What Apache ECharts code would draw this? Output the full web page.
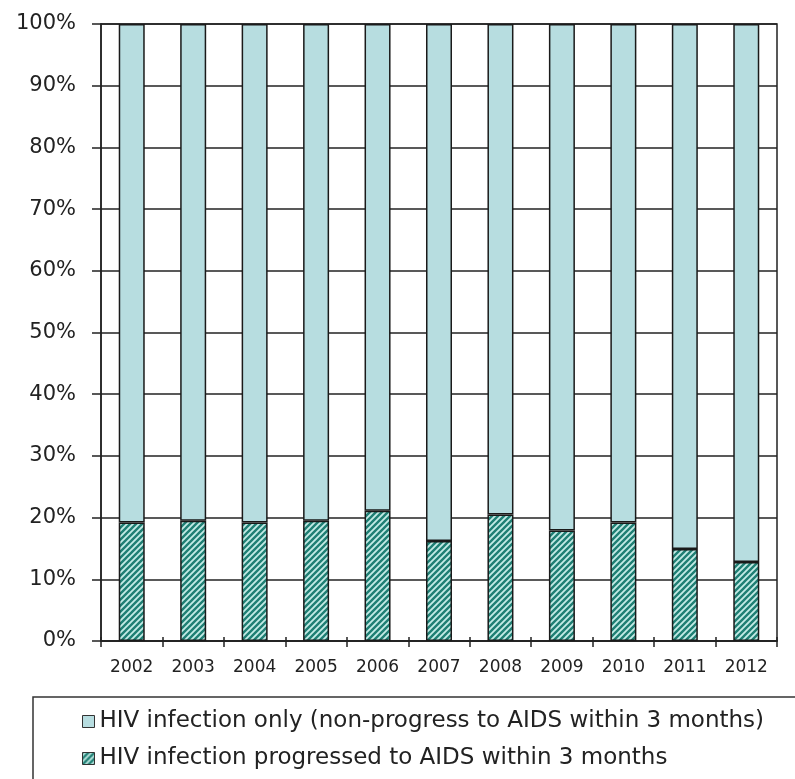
<!DOCTYPE html>
<html>
<head>
<meta charset="utf-8">
<script src="https://cdn.jsdelivr.net/npm/echarts@6/dist/echarts.min.js"></script>
<style>
html,body{margin:0;padding:0;background:#fff;}
#chart{width:795px;height:779px;}
</style>
</head>
<body>
<div id="chart"></div>
<script>
const years = ['2002','2003','2004','2005','2006','2007','2008','2009','2010','2011','2012'];
const progressedPct = [19.2, 19.5, 19.2, 19.5, 21.1, 16.2, 20.5, 17.9, 19.2, 14.9, 12.8];
const onlyPct = [80.8, 80.5, 80.8, 80.5, 78.9, 83.8, 79.5, 82.1, 80.8, 85.1, 87.2];
const yTicks = [0, 10, 20, 30, 40, 50, 60, 70, 80, 90, 100];
const seriesNames = ['HIV infection only (non-progress to AIDS within 3 months)',
                     'HIV infection progressed to AIDS within 3 months'];

const FONT = "'DejaVu Sans', sans-serif";

function stripePattern() {
  const s = 6;
  const c = document.createElement('canvas');
  c.width = s; c.height = s;
  const ctx = c.getContext('2d');
  ctx.fillStyle = '#c4ebe6';
  ctx.fillRect(0, 0, s, s);
  ctx.strokeStyle = '#1f7f74';
  ctx.lineWidth = 2.4;
  ctx.beginPath();
  ctx.moveTo(-1, s + 1); ctx.lineTo(s + 1, -1);
  ctx.moveTo(-1, 1); ctx.lineTo(1, -1);
  ctx.moveTo(s - 1, s + 1); ctx.lineTo(s + 1, s - 1);
  ctx.stroke();
  return c;
}

const chart = echarts.init(document.getElementById('chart'), null, {renderer: 'canvas'});
const pattern = {image: stripePattern(), repeat: 'repeat'};

chart.setOption({
  animation: false,
  backgroundColor: '#ffffff',
  grid: {left: 101, top: 24, right: 18, bottom: 138, show: true, borderColor: '#222', borderWidth: 1.5, backgroundColor: 'transparent'},
  legend: {
    orient: 'vertical',
    left: 77,
    top: 705,
    itemWidth: 12,
    itemHeight: 12,
    itemGap: 14,
    icon: 'rect',
    data: seriesNames,
    itemStyle: {borderColor: '#333', borderWidth: 1},
    textStyle: {fontFamily: FONT, fontSize: 23, color: '#222'}
  },
  graphic: [{
    type: 'rect',
    shape: {x: 33, y: 697, width: 800, height: 120},
    style: {fill: 'none', stroke: '#333', lineWidth: 1.5},
    silent: true
  }],
  xAxis: [{
    type: 'category',
    data: years,
    boundaryGap: true,
    axisLine: {show: true, lineStyle: {color: '#222', width: 1.5}},
    axisTick: {show: true, alignWithLabel: false, length: 6, lineStyle: {color: '#222', width: 1.5}},
    axisLabel: {fontFamily: FONT, fontSize: 17, color: '#222', margin: 18}
  }, {
    type: 'category',
    data: years,
    position: 'bottom',
    boundaryGap: true,
    axisLine: {show: false},
    axisTick: {show: true, inside: true, length: 4, lineStyle: {color: '#222', width: 1.5}},
    axisLabel: {show: false}
  }],
  yAxis: {
    type: 'value',
    min: 0,
    max: 100,
    interval: 10,
    axisLine: {show: true, lineStyle: {color: '#222', width: 1.5}},
    axisTick: {show: true, length: 9, lineStyle: {color: '#222', width: 1.5}},
    splitLine: {show: true, lineStyle: {color: '#222', width: 1.5}},
    axisLabel: {
      fontFamily: FONT, fontSize: 21, color: '#222', margin: 25,
      formatter: function (v) { return yTicks.indexOf(v) >= 0 ? v + '%' : ''; }
    }
  },
  series: [{
    name: seriesNames[1],
    type: 'bar',
    stack: 'total',
    barWidth: 26,
    data: progressedPct,
    itemStyle: {color: pattern, borderColor: '#1a1a1a', borderWidth: 1.5}
  }, {
    name: seriesNames[0],
    type: 'bar',
    stack: 'total',
    barWidth: 26,
    data: onlyPct,
    itemStyle: {color: '#b7dde0', borderColor: '#1a1a1a', borderWidth: 1.5}
  }]
});
</script>
</body>
</html>
